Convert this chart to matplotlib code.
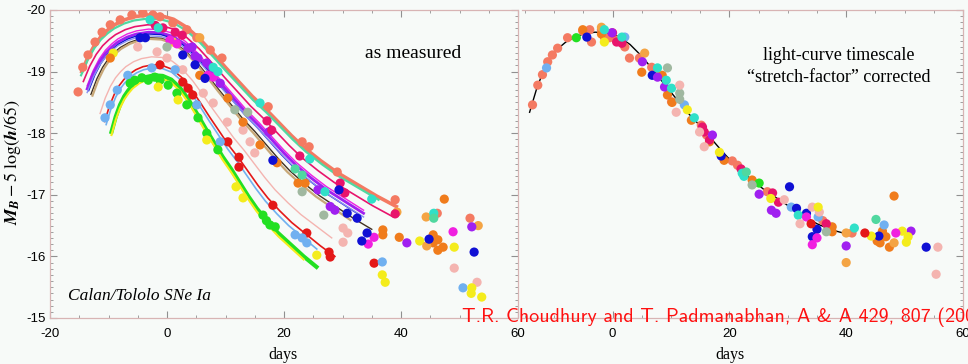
import numpy as np
import matplotlib
matplotlib.use("Agg")
import matplotlib.pyplot as plt
from matplotlib.ticker import MultipleLocator

plt.rcParams['axes.unicode_minus'] = False
plt.rcParams['mathtext.fontset'] = 'stix'

# template light curve (black line in the right panel)
tmpl_day = [-14.2, -13, -12, -11, -10, -9, -8, -6.5, -5, -3, -1, 1, 3, 5, 7, 9, 11, 13,
            15, 17, 19, 21, 23.5, 26, 29, 32, 35, 37.5, 39.5]
tmpl_mag = [-18.34, -18.72, -18.97, -19.16, -19.30, -19.40, -19.48, -19.56, -19.61, -19.64,
            -19.63, -19.57, -19.44, -19.25, -19.02, -18.78, -18.55, -18.32, -18.12, -17.90,
            -17.68, -17.48, -17.27, -17.08, -16.89, -16.70, -16.53, -16.43, -16.38]

# fitted curves of the left panel: peak offset, stretch, first/last day, colour code, width
curve_dm = [-0.28, -0.22, -0.12, -0.05, 0.0, 0.03, 0.06, 0.09, 0.11, 0.40, 0.53, 0.58, 0.70, 0.75]
curve_s = [1.12, 1.13, 1.10, 1.05, 1.05, 1.03, 1.05, 1.00, 0.98, 0.88, 0.82, 0.80, 0.73, 0.73]
curve_t0 = [-15.8, -15.0, -15.0, -14.5, -14.4, -14.2, -14.0, -13.6, -13.5, -12.3, -11.6, -11.1, -9.5, -9.5]
curve_t1 = [39.2, 39.5, 39.0, 35.5, 36.7, 36.0, 36.5, 35.2, 34.0, 29.6, 28.7, 27.9, 25.8, 25.3]
curve_col = ['S', 'A', 'C', 'M', 'V', 'B', 'l', 'k', 't', 'P', 'R', 'L', 'G', 'Y']
curve_lw = [2.6, 1.6, 1.2, 1.0, 2.0, 1.0, 1.0, 1.0, 1.6, 1.0, 1.2, 1.2, 3.0, 1.5]

# observed points, left panel ("as measured")
left_day = [-15.2, -14.4, -13.5, -12.3, -11.1, -9.7, -8.0, -6.0, -4.1, -2.4, -1.2, 1.0, 3.4, 5.1,
            7.4, 9.4, 17.3, 23.1, 24.3, 29.1, 39.0, 46.2, 51.8,
            -5.0, -1.7, 0.0, 2.7, 6.2, 7.9, 10.3, 13.0, 14.2, 15.0, 30.1, 30.9, 30.1, 49.1, 53.0,
            -1.2, 2.7, 3.6, 4.4, 10.4, 12.3, 12.3, 18.1, 23.9, 27.7, 27.9, 35.4,
            -10.6, -9.7, -8.5, -6.7, -2.6, 1.4, 5.1, 9.1, 21.9, 23.1, 23.9, 36.8, 50.6,
            -6.3, -5.5, -4.3, -3.2, -2.1, -1.2, 0.2, 1.7, 3.4, 5.3, 6.8, 8.7, 16.4, 17.0, 17.6, 18.5,
            -9.2, -1.5, 1.0, 1.9, 6.8, 11.8, 13.0, 25.6, 36.8, 37.3, 43.2, 49.1, 52.1, 52.0, 53.8,
            -9.7, 5.6, 10.4, 13.0, 15.9, 18.8, 22.4, 23.6, 36.9, 36.9, 39.7, 47.4, 45.5, 46.3, 45.5,
            47.2, 46.3,
            39.3, 44.3, 44.4, 53.2, 5.6,
            3.6, 4.3, 4.8, 5.3, 6.8, 9.1, 17.4, 25.8, 27.9, 28.7, 41.0, 52.1,
            0.5, 1.7, 7.0, 7.9, 35.4, 34.4, 48.9,
            -2.0, -0.7, 1.4, 2.6, 17.1, 17.9, 22.7, 29.6, 30.4, 39.0,
            -2.9, -1.5, 7.9, 8.7, 15.9, 24.4, 35.0, 27.0, 45.6,
            21.9, 23.1, 45.6,
            -4.6, -3.7, 2.7, 4.8, 6.5, 18.1, 29.4, 30.8, 32.5, 34.2, 33.3, 44.8, 52.5,
            11.6, 23.1, 26.8, 0.0, 13.8]
left_mag = [-18.67, -19.07, -19.27, -19.48, -19.64, -19.76, -19.84, -19.92, -19.95, -19.92, -19.89,
            -19.79, -19.68, -19.55, -19.35, -19.22, -18.43, -17.86, -17.78, -17.37, -16.92, -16.70,
            -16.62,
            -19.40, -19.32, -19.22, -19.03, -18.65, -18.49, -18.18, -18.05, -17.86, -17.68, -16.46,
            -16.38, -16.23, -15.81, -15.58,
            -19.11, -18.83, -18.73, -18.62, -17.86, -17.61, -17.45, -16.83, -16.38, -16.07, -15.99,
            -15.89,
            -18.25, -18.46, -18.70, -18.94, -19.06, -19.03, -18.46, -17.86, -16.35, -16.30, -16.22,
            -15.91, -15.49,
            -18.81, -18.86, -18.90, -18.86, -18.91, -18.86, -18.78, -18.65, -18.46, -18.25, -18.00,
            -17.73, -16.67, -16.58, -16.51, -16.48,
            -19.30, -18.75, -19.48, -18.54, -17.89, -17.13, -16.95, -16.02, -15.70, -15.58, -16.25,
            -16.15, -15.49, -15.40, -15.34,
            -19.22, -18.94, -18.57, -18.18, -17.81, -17.52, -17.19, -17.19, -16.43, -16.35, -16.31,
            -16.93, -16.35, -16.27, -16.22, -16.15, -16.10,
            -16.72, -16.64, -16.17, -16.50, -19.55,
            -19.38, -19.40, -19.25, -19.22, -19.14, -18.81, -18.02, -17.08, -16.81, -16.75, -16.22,
            -16.48,
            -19.51, -19.45, -18.94, -18.91, -16.31, -16.20, -16.40,
            -19.75, -19.71, -19.64, -19.59, -18.20, -18.05, -17.63, -17.19, -17.03, -16.69,
            -19.84, -19.71, -19.07, -19.00, -18.49, -17.58, -16.93, -17.05, -16.70,
            -17.42, -17.32, -16.62,
            -19.55, -19.55, -19.27, -19.11, -18.89, -17.56, -17.08, -16.70, -16.62, -16.38, -16.25,
            -16.28, -16.07,
            -18.38, -17.05, -16.67, -19.40, -18.34]
left_col = (['S'] * 23 + ['P'] * 15 + ['R'] * 12 + ['L'] * 13 + ['G'] * 16 + ['Y'] * 15
            + ['O'] * 17 + ['o'] * 5 + ['V'] * 12 + ['M'] * 7 + ['C'] * 10 + ['T'] * 9
            + ['A'] * 3 + ['B'] * 13 + ['g'] * 5)

# observed points, right panel (stretch corrected)
right_day = [-13.7, -12.8, -12.0, -11.1, -10.3, -9.4, -7.7, -5.1, -3.9, -3.6, -1.9, -1.4, -0.5,
             0.7, 2.1, 2.9, 4.6, 6.7, 7.5, 10.1, 15.2, 16.1, 20.5, 21.4, 26.5, 36.0, 41.0,
             -5.1, -1.9, 5.0, 8.5, 9.4, 10.2, 13.5, 16.6, 19.1, 23.9, 37.6, 37.6, 45.3, 46.2, 46.8,
             47.4, 45.8, 48.2,
             -1.9, 5.5, 40.0, 40.0, 48.2,
             -11.3, 2.1, 12.3, 30.6, 35.2, 46.5,
             -6.2, 25.1,
             -4.4, 6.8, 18.6, 30.3, 31.5, 33.2, 35.0, 34.2, 45.6, 53.7,
             0.7, 1.6, 0.0, 15.7, 16.6, 22.0, 27.4, 28.4, 36.6, 15.4,
             -0.1, 5.1, 7.7, 8.9, 17.1, 25.1, 27.2, 28.0, 40.0, 51.1,
             -1.4, 7.7, 9.2, 10.1, 14.0, 1.6, 22.2, 22.5, 31.8, 41.4,
             22.9, 45.1,
             9.4, 11.5, 11.5, 23.9, 36.6,
             11.5, 10.9, 14.9, 15.7, 29.4, 34.2, 35.4, 32.1, 55.7, 55.4,
             -1.4, 12.8, 18.3, 27.1, 35.2, 44.3, 49.6, 50.6, 50.3,
             33.2, 34.2, 35.0, 48.5,
             34.0, 43.2]
right_mag = [-18.46, -18.78, -18.95, -19.16, -19.27, -19.38, -19.55, -19.66, -19.68, -19.48, -19.68,
             -19.56, -19.55, -19.51, -19.40, -19.22, -19.22, -19.07, -18.94, -18.51, -18.13, -17.97,
             -17.55, -17.48, -17.05, -16.58, -16.38,
             -19.68, -19.61, -18.99, -18.94, -18.62, -18.50, -18.21, -17.86, -17.56, -17.24, -16.48,
             -16.40, -16.25, -16.41, -16.32, -16.15, -16.22, -16.98,
             -19.72, -19.30, -16.38, -15.90, -16.22,
             -19.06, -19.56, -18.46, -16.80, -16.64, -16.51,
             -19.55, -17.19,
             -19.56, -18.94, -17.63, -17.13, -16.78, -16.70, -16.44, -16.32, -16.33, -16.15,
             -19.48, -19.46, -19.63, -18.02, -17.89, -17.42, -17.03, -16.88, -16.53, -18.10,
             -19.63, -19.16, -18.91, -18.75, -17.97, -17.01, -16.75, -16.70, -16.17, -16.41,
             -19.68, -19.06, -18.86, -18.73, -18.25, -19.56, -17.35, -17.30, -16.67, -16.46,
             -17.37, -16.60,
             -19.06, -18.65, -18.55, -17.16, -16.40,
             -18.78, -18.34, -18.02, -17.78, -16.92, -16.80, -16.72, -16.53, -16.15, -15.71,
             -19.48, -18.38, -17.69, -16.94, -16.80, -16.33, -16.41, -16.32, -16.23,
             -16.64, -16.19, -16.30, -16.38,
             -16.53, -16.38]
right_col = (['S'] * 27 + ['O'] * 18 + ['o'] * 5 + ['L'] * 6 + ['G'] * 2 + ['B'] * 10
             + ['C'] * 10 + ['V'] * 10 + ['T'] * 10 + ['A'] * 2 + ['g'] * 5 + ['P'] * 10
             + ['Y'] * 9 + ['M'] * 4 + ['R'] * 2)

palette = {'S': '#f47a62', 'R': '#e41818', 'P': '#f4b4b0', 'B': '#1010d4', 'L': '#70b0f0',
           'G': '#22e022', 'Y': '#f4ec1c', 'O': '#f07c1c', 'o': '#f4a444', 'V': '#a020f0',
           'M': '#f020e0', 'C': '#e8146c', 'T': '#30e0c8', 'A': '#50d8a0', 'g': '#a0b8a0',
           'l': '#8890f0', 'k': '#403020', 't': '#c8a878'}

bg = '#f7faf8'
fig = plt.figure(figsize=(9.68, 3.64), dpi=100, facecolor=bg)
axL = fig.add_axes([50 / 968, 46 / 364, 468 / 968, 308 / 364])
axR = fig.add_axes([522 / 968, 46 / 364, 441 / 968, 308 / 364])

tday = np.array(tmpl_day)
tmag = np.array(tmpl_mag)

for dm, s, t0, t1, c, lw in zip(curve_dm, curve_s, curve_t0, curve_t1, curve_col, curve_lw):
    d = tday * s
    keep = (d >= t0 - 0.01) & (d <= t1 + 0.01)
    axL.plot(d[keep], tmag[keep] + dm, color=palette[c], lw=lw, zorder=2)

axL.scatter(left_day, left_mag, s=44, c=[palette[c] for c in left_col], linewidths=0, zorder=3)

axR.plot(tmpl_day, tmpl_mag, color='black', lw=1.0, zorder=2)
axR.scatter(right_day, right_mag, s=44, c=[palette[c] for c in right_col], linewidths=0, zorder=3)

for ax in (axL, axR):
    ax.set_facecolor(bg)
    ax.set_ylim(-15, -20)
    ax.yaxis.set_major_locator(MultipleLocator(1))
    ax.yaxis.set_minor_locator(MultipleLocator(0.1))
    ax.xaxis.set_major_locator(MultipleLocator(20))
    ax.xaxis.set_minor_locator(MultipleLocator(5))
    ax.tick_params(which='both', direction='in', top=True, right=True, color='#909090',
                   labelsize=9.5, labelfontfamily='Liberation Sans')
    ax.tick_params(which='major', length=5, width=0.8)
    ax.tick_params(which='minor', length=2.5, width=0.6)
    ax.tick_params(axis='x', pad=7)
    ax.tick_params(axis='y', pad=3)
    for sp in ax.spines.values():
        sp.set_color('#d8b4b4')
        sp.set_linestyle((0, (1.5, 1)))
        sp.set_linewidth(0.9)

axL.set_xlim(-20, 60)
axR.set_xlim(-15.5, 60)
axR.spines['left'].set_visible(False)
axR.tick_params(axis='y', which='both', left=False, labelleft=False)
axR.set_xticks([0, 20, 40, 60])

serif = 'Liberation Serif'
fig.text(413 / 968, 1 - 53 / 364, 'as measured', family=serif, fontsize=14,
         ha='center', va='center')
fig.text(839 / 968, 1 - 55 / 364, 'light-curve timescale', family=serif, fontsize=13,
         ha='center', va='center')
fig.text(839 / 968, 1 - 78 / 364, '\u201cstretch-factor\u201d corrected', family=serif,
         fontsize=13, ha='center', va='center')
fig.text(139 / 968, 1 - 296 / 364, 'Calan/Tololo SNe Ia', family=serif, style='italic',
         fontsize=12.5, ha='center', va='center')
fig.text(283 / 968, 1 - 355 / 364, 'days', family=serif, fontsize=11.5, ha='center', va='center')
fig.text(730 / 968, 1 - 355 / 364, 'days', family=serif, fontsize=11.5, ha='center', va='center')
fig.text(13 / 968, 1 - 162 / 364, r'$\mathbfit{M}_{\mathbfit{B}} - 5\ \log(\mathbfit{h}/65)$',
         fontsize=13, rotation=90, ha='center', va='center')
fig.text(462 / 968, 42 / 364, 'T.R. Choudhury and T. Padmanabhan, A & A 429, 807 (2005)',
         family='cmss10', fontsize=14.4, color='#ff1010', ha='left', va='baseline')

fig.savefig('out.png', dpi=100, facecolor=bg)
